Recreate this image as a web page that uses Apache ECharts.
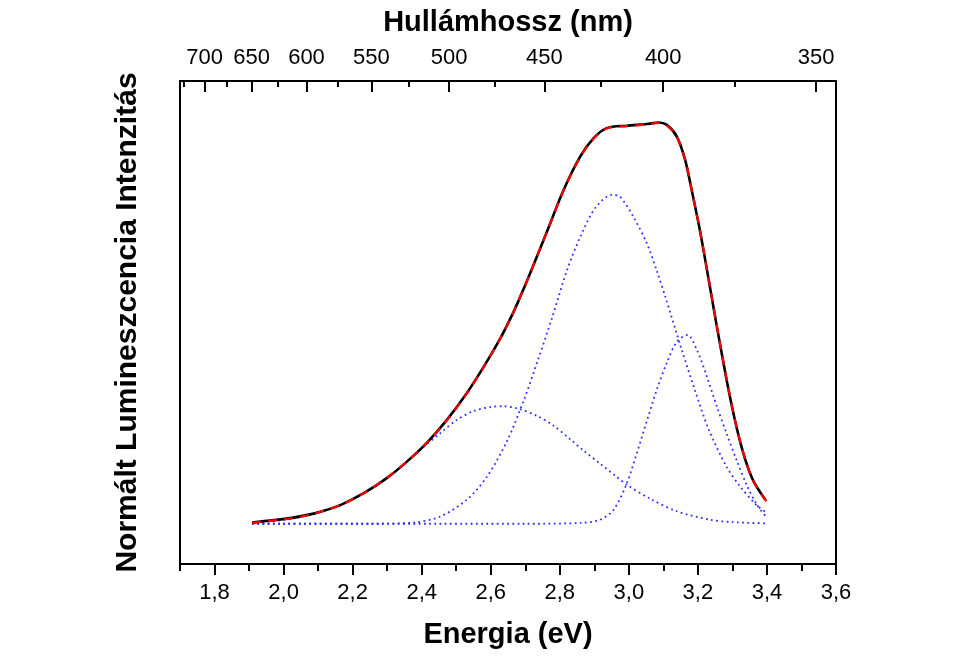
<!DOCTYPE html>
<html>
<head>
<meta charset="utf-8">
<script src="https://cdn.jsdelivr.net/npm/echarts@6/dist/echarts.min.js"></script>
<style>
  html, body { margin: 0; padding: 0; background: #ffffff; }
  #chart { width: 954px; height: 670px; }
</style>
</head>
<body>
<div id="chart"></div>
<script>
// Photon energy / wavelength conversion constant (eV * nm)
const HC = 1239.84;

// Bottom axis ticks (eV)
const energyTicks = [1.8, 2.0, 2.2, 2.4, 2.6, 2.8, 3.0, 3.2, 3.4, 3.6];
const energyMinorTicks = [1.7, 1.9, 2.1, 2.3, 2.5, 2.7, 2.9, 3.1, 3.3, 3.5];

// Top axis ticks (nm)
const wavelengthTicks = [700, 650, 600, 550, 500, 450, 400, 350];
const wavelengthMinorTicks = [725, 675, 625, 575, 525, 475, 425, 375];

// Measured luminescence spectrum (normalised)
const measuredEnergy = [1.909, 1.960, 2.020, 2.070, 2.107, 2.166, 2.232, 2.300, 2.358, 2.415, 2.473, 2.531, 2.579, 2.628, 2.662, 2.681, 2.715, 2.763, 2.811, 2.859, 2.898, 2.936, 2.994, 3.052, 3.086, 3.110, 3.139, 3.163, 3.182, 3.206, 3.226, 3.240, 3.250, 3.265, 3.288, 3.313, 3.337, 3.361, 3.395];
const measuredIntensity = [0.003, 0.008, 0.014, 0.022, 0.030, 0.047, 0.076, 0.114, 0.155, 0.201, 0.258, 0.325, 0.389, 0.461, 0.519, 0.555, 0.624, 0.726, 0.829, 0.912, 0.958, 0.983, 0.989, 0.993, 0.997, 0.991, 0.962, 0.904, 0.829, 0.728, 0.632, 0.563, 0.514, 0.442, 0.336, 0.236, 0.160, 0.106, 0.060];

// Cumulative fit
const fitEnergy = [1.909, 1.960, 2.020, 2.070, 2.107, 2.166, 2.232, 2.300, 2.358, 2.415, 2.473, 2.531, 2.579, 2.628, 2.662, 2.681, 2.715, 2.763, 2.811, 2.859, 2.898, 2.936, 2.994, 3.052, 3.086, 3.110, 3.139, 3.163, 3.182, 3.206, 3.226, 3.240, 3.250, 3.265, 3.288, 3.313, 3.337, 3.361, 3.400];
const fitIntensity = [0.002, 0.007, 0.013, 0.021, 0.030, 0.047, 0.076, 0.115, 0.155, 0.201, 0.257, 0.324, 0.388, 0.461, 0.518, 0.555, 0.624, 0.726, 0.828, 0.911, 0.957, 0.982, 0.988, 0.992, 0.996, 0.990, 0.962, 0.905, 0.830, 0.729, 0.633, 0.564, 0.515, 0.443, 0.337, 0.237, 0.161, 0.105, 0.054];

// Fit components
const band1Energy = [1.909, 2.020, 2.100, 2.166, 2.242, 2.329, 2.396, 2.454, 2.500, 2.550, 2.600, 2.637, 2.680, 2.734, 2.780, 2.830, 2.870, 2.917, 2.960, 2.994, 3.062, 3.139, 3.235, 3.300, 3.395];
const band1Intensity = [0.002, 0.012, 0.028, 0.047, 0.080, 0.134, 0.184, 0.225, 0.257, 0.280, 0.290, 0.292, 0.286, 0.268, 0.245, 0.210, 0.181, 0.149, 0.120, 0.097, 0.062, 0.031, 0.010, 0.004, 0.001];

const band2Energy = [1.909, 2.250, 2.377, 2.454, 2.531, 2.589, 2.647, 2.695, 2.738, 2.777, 2.821, 2.859, 2.903, 2.951, 2.975, 3.013, 3.052, 3.081, 3.106, 3.154, 3.192, 3.231, 3.284, 3.322, 3.371, 3.395];
const band2Intensity = [0.000, 0.000, 0.003, 0.018, 0.060, 0.117, 0.205, 0.305, 0.410, 0.510, 0.630, 0.712, 0.785, 0.817, 0.812, 0.763, 0.697, 0.628, 0.563, 0.430, 0.330, 0.235, 0.140, 0.093, 0.045, 0.030];

const band3Energy = [1.909, 2.700, 2.859, 2.917, 2.956, 2.994, 3.023, 3.052, 3.081, 3.110, 3.139, 3.170, 3.197, 3.226, 3.255, 3.284, 3.313, 3.342, 3.371, 3.395];
const band3Intensity = [0.000, 0.000, 0.002, 0.010, 0.035, 0.100, 0.175, 0.255, 0.333, 0.400, 0.452, 0.469, 0.432, 0.366, 0.291, 0.222, 0.156, 0.095, 0.047, 0.020];

const FONT = "'Liberation Sans', Arial, Helvetica, sans-serif";
const zip = (xs, ys) => xs.map((x, i) => [x, ys[i]]);
const toEnergy = nm => HC / nm;

const lineAxis = { show: true, onZero: false, lineStyle: { color: '#000', width: 2 } };
const hiddenLine = { show: false, onZero: false };
const tickStyle = { color: '#000', width: 2 };
const nameStyle = { color: '#000', fontSize: 29, fontWeight: 'bold', fontFamily: FONT };
const labelStyle = { color: '#000', fontSize: 22, fontFamily: FONT };

const energyAxisBase = { type: 'value', min: 1.7, max: 3.6, splitLine: { show: false } };
const intensityAxisBase = { type: 'value', min: -0.1, max: 1.1, splitLine: { show: false }, axisTick: { show: false }, axisLabel: { show: false } };

const dotted = { color: '#2f2fff', width: 1.8, type: [1.8, 3.4] };

function lineSeries(name, data, lineStyle, z) {
  return {
    name, type: 'line', data, z,
    xAxisIndex: 0, yAxisIndex: 0,
    showSymbol: false, symbol: 'none', smooth: 0.3,
    lineStyle, silent: true, animation: false
  };
}

const chart = echarts.init(document.getElementById('chart'), null, { renderer: 'canvas' });
chart.setOption({
  backgroundColor: '#ffffff',
  animation: false,
  grid: { left: 180, right: 118, top: 81, bottom: 106, containLabel: false, outerBoundsMode: 'none' },
  xAxis: [
    {
      ...energyAxisBase, position: 'bottom',
      axisLine: lineAxis,
      axisTick: { show: true, inside: false, length: 11, lineStyle: tickStyle, customValues: energyTicks },
      axisLabel: { show: true, ...labelStyle, margin: 18, customValues: energyTicks,
        formatter: v => v.toFixed(1).replace('.', ',') },
      name: 'Energia (eV)', nameLocation: 'middle', nameGap: 56, nameTextStyle: nameStyle
    },
    {
      ...energyAxisBase, position: 'bottom',
      axisLine: hiddenLine,
      axisTick: { show: true, inside: false, length: 7, lineStyle: tickStyle, customValues: energyMinorTicks },
      axisLabel: { show: false }
    },
    {
      ...energyAxisBase, position: 'top',
      axisLine: lineAxis,
      axisTick: { show: true, inside: true, length: 11, lineStyle: tickStyle, customValues: wavelengthTicks.map(toEnergy) },
      axisLabel: { show: true, ...labelStyle, margin: 12, customValues: wavelengthTicks.map(toEnergy),
        formatter: v => String(Math.round(HC / v)) },
      name: 'Hullámhossz (nm)', nameLocation: 'middle', nameGap: 44, nameTextStyle: nameStyle
    },
    {
      ...energyAxisBase, position: 'top',
      axisLine: hiddenLine,
      axisTick: { show: true, inside: true, length: 6, lineStyle: tickStyle, customValues: wavelengthMinorTicks.map(toEnergy) },
      axisLabel: { show: false }
    }
  ],
  yAxis: [
    {
      ...intensityAxisBase, position: 'left', axisLine: lineAxis,
      name: 'Normált Lumineszcencia Intenzitás', nameLocation: 'middle', nameGap: 37,
      nameTextStyle: { ...nameStyle, fontSize: 30 }
    },
    { ...intensityAxisBase, position: 'right', axisLine: lineAxis }
  ],
  series: [
    lineSeries('Sáv 1', zip(band1Energy, band1Intensity), dotted, 2),
    lineSeries('Sáv 2', zip(band2Energy, band2Intensity), dotted, 2),
    lineSeries('Sáv 3', zip(band3Energy, band3Intensity), dotted, 2),
    lineSeries('Mért', zip(measuredEnergy, measuredIntensity), { color: '#000', width: 2.6 }, 3),
    lineSeries('Illesztés', zip(fitEnergy, fitIntensity), { color: '#ff0000', width: 2.2, type: [9, 7] }, 4)
  ]
});
</script>
</body>
</html>
